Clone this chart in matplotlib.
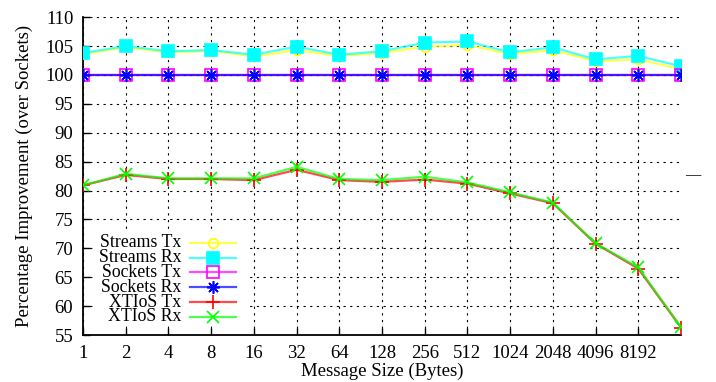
import numpy as np
import matplotlib
matplotlib.use("Agg")
import matplotlib.pyplot as plt
from matplotlib.patches import Rectangle

plt.rcParams['font.family'] = ['Liberation Serif', 'DejaVu Serif']
plt.rcParams['font.size'] = 13.5

# --- DATA ---
sizes = ['1', '2', '4', '8', '16', '32', '64', '128', '256', '512',
         '1024', '2048', '4096', '8192', '16384']
streams_tx = [103.6, 104.8, 103.9, 104.2, 103.2, 104.3, 103.3, 103.8, 104.9,
              105.2, 103.6, 104.3, 102.4, 102.7, 101.0]
streams_rx = [103.8, 105.0, 104.1, 104.3, 103.5, 104.9, 103.5, 104.1, 105.6,
              105.8, 103.9, 104.8, 102.7, 103.3, 101.5]
sockets_tx = [100.0] * 15
sockets_rx = [100.0] * 15
xtios_tx = [80.9, 82.7, 82.0, 82.0, 81.8, 83.6, 81.8, 81.5, 81.9,
            81.2, 79.5, 77.8, 70.8, 66.5, 56.3]
xtios_rx = [80.9, 82.9, 82.1, 82.1, 82.1, 84.1, 82.0, 81.8, 82.4,
            81.4, 79.7, 77.9, 70.9, 66.7, 56.4]

# label, values, colour, marker, marker size, filled
series = [
    ('Streams Tx', streams_tx, '#ffff00', 'o', 7, False),
    ('Streams Rx', streams_rx, '#00ffff', 's', 8, True),
    ('Sockets Tx', sockets_tx, '#ff00ff', 's', 8, False),
    ('Sockets Rx', sockets_rx, '#0000ff', (8, 2, 0), 9, True),
    ('XTIoS Tx', xtios_tx, '#ff0000', '+', 10, True),
    ('XTIoS Rx', xtios_rx, '#00ff00', 'x', 8, True),
]
LINE_ALPHA = 0.7

fig = plt.figure(figsize=(7.16, 3.82), dpi=100)
ax = fig.add_axes([0.116, 0.123, 0.835, 0.832])

x = np.arange(len(sizes))

for label, vals, col, mk, ms, filled in series:
    ax.plot(x, vals, color=col, lw=1.6, alpha=LINE_ALPHA, zorder=3)
    ax.plot(x, vals, ls='none', marker=mk, ms=ms,
            markerfacecolor=col if filled else 'none',
            markeredgecolor=col, markeredgewidth=1.2, zorder=3)

ax.set_xlim(0, len(sizes) - 1)
ax.set_ylim(55, 110)
ax.set_xticks(x[:-1])
ax.set_xticklabels(sizes[:-1])
ax.set_yticks(np.arange(55, 111, 5))

ax.grid(True, color='black', linestyle=(0, (2, 4)), linewidth=0.8, zorder=0)
ax.set_axisbelow(True)
for s in ['top', 'right']:
    ax.spines[s].set_visible(False)
for s in ['left', 'bottom']:
    ax.spines[s].set_linewidth(1.3)
ax.tick_params(direction='in', length=5, width=1.0, pad=7)

ax.set_xlabel('Message Size (Bytes)', labelpad=1)
ax.set_ylabel('Percentage Improvement (over Sockets)', labelpad=9)

# key: white box over the grid, labels right-aligned before the samples
ax.add_patch(Rectangle((0.017, 0.031), 0.257, 0.293, transform=ax.transAxes,
                       facecolor='white', edgecolor='none', zorder=1))
y0, dy = 0.290, 0.0466
for i, (label, vals, col, mk, ms, filled) in enumerate(series):
    yy = y0 - i * dy
    ax.text(0.164, yy, label, transform=ax.transAxes, ha='right', va='center',
            fontsize=12.8, zorder=4)
    ax.plot([0.179, 0.256], [yy, yy], transform=ax.transAxes, color=col,
            lw=1.6, alpha=LINE_ALPHA, zorder=4)
    ax.plot([0.217], [yy], transform=ax.transAxes, marker=mk, ms=ms,
            markerfacecolor=col if filled else 'none', markeredgecolor=col,
            markeredgewidth=1.2, zorder=4)

fig.text(0.967, 0.541, '\u2014', ha='center', va='center', fontsize=11)

fig.savefig('out.png', dpi=100)
